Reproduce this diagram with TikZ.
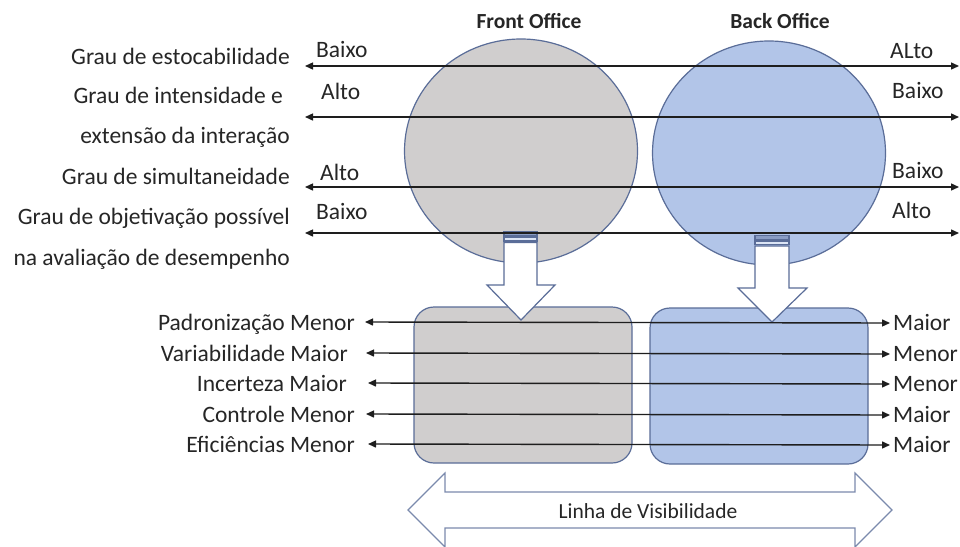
\documentclass[tikz,border=0pt]{standalone}
\usepackage{fontspec}
\setmainfont{Carlito}
\usetikzlibrary{arrows.meta,shapes.geometric}
\definecolor{grayfill}{HTML}{D0CECE}
\definecolor{bluefill}{HTML}{B2C5E8}
\definecolor{edgeblue}{HTML}{5A6D98}
\definecolor{ink}{HTML}{1E1E1E}
\definecolor{txt}{HTML}{262626}
\begin{document}
\begin{tikzpicture}[x=1pt,y=-1pt,
  lbl/.style={inner sep=0pt, font=\fontsize{23.5}{28}\selectfont, text=txt},
  ttl/.style={inner sep=0pt, font=\fontsize{21.5}{26}\selectfont\bfseries, text=txt},
  conn/.style={draw=ink, line width=1.4pt, {Triangle[length=8pt,width=7pt]}-{Triangle[length=8pt,width=7pt]}},
  shapeedge/.style={draw=edgeblue, line width=1.2pt},
  blob/.style={shapeedge, ellipse, inner sep=0pt, minimum width=233pt, minimum height=224pt},
  panel/.style={shapeedge, rounded corners=20pt, inner sep=0pt, minimum width=218pt, minimum height=156pt},
]
\useasboundingbox (0,0) rectangle (960,546);
\clip (0,0) rectangle (960,546);
\fill[white] (0,0) rectangle (960,546);

% circles
\node[blob, fill=grayfill] (fo) at (521,151) {};
\node[blob, fill=bluefill] (bo) at (769,153) {};

% boxes
\node[panel, fill=grayfill] (fobox) at (523,385) {};
\node[panel, fill=bluefill] (bobox) at (759,386) {};

% striped down arrows
\draw[shapeedge, fill=edgeblue!45!bluefill] (504,232) rectangle (537,236);
\draw[shapeedge, fill=bluefill!45] (504,237.5) rectangle (537,241);
\draw[shapeedge, fill=white] (504,242.5) -- (537,242.5) -- (537,285) -- (555,285) -- (521,320) -- (487,285) -- (504,285) -- cycle;

\draw[shapeedge, fill=edgeblue!45!bluefill] (755,235.5) rectangle (789,239.5);
\draw[shapeedge, fill=bluefill!45] (755,241) rectangle (789,244.5);
\draw[shapeedge, fill=white] (755,246) -- (789,246) -- (789,288) -- (807,288) -- (772,322) -- (738,288) -- (755,288) -- cycle;

% double block arrow
\draw[draw=edgeblue!80, line width=1.2pt, fill=white] (408,510) -- (445,473) -- (445,492) -- (855,492) -- (855,473) -- (892,510) -- (855,547) -- (855,528) -- (445,528) -- (445,547) -- cycle;
\node[inner sep=0pt, font=\fontsize{21.5}{26}\selectfont, text=txt] (vis) at (648,511) {Linha de Visibilidade};

% titles
\node[ttl, anchor=base] (fot) at (529,28) {Front Office};
\node[ttl, anchor=base] (bot) at (780,28) {Back Office};

% top connectors
\coordinate (a1l) at (305,66);  \coordinate (a1r) at (959,66);
\coordinate (a2l) at (305,117); \coordinate (a2r) at (959,117);
\coordinate (a3l) at (305,187); \coordinate (a3r) at (959,187);
\coordinate (a4l) at (305,233); \coordinate (a4r) at (959,233);
\draw[conn] (a1l) -- (a1r);
\draw[conn] (a2l) -- (a2r);
\draw[conn] (a3l) -- (a3r);
\draw[conn] (a4l) -- (a4r);

% bottom connectors
\coordinate (b1l) at (365,322); \coordinate (b1r) at (890,323);
\coordinate (b2l) at (366,353); \coordinate (b2r) at (890,354);
\coordinate (b3l) at (368,383); \coordinate (b3r) at (890,384);
\coordinate (b4l) at (366,414); \coordinate (b4r) at (890,415);
\coordinate (b5l) at (368,444); \coordinate (b5r) at (890,445);
\draw[conn] (b1l) -- (b1r);
\draw[conn] (b2l) -- (b2r);
\draw[conn] (b3l) -- (b3r);
\draw[conn] (b4l) -- (b4r);
\draw[conn] (b5l) -- (b5r);

% left labels top
\node[lbl, anchor=base east] (l1) at (290,64) {Grau de estocabilidade};
\node[lbl, anchor=base east] (l2) at (283,103) {Grau de intensidade e};
\node[lbl, anchor=base east] (l3) at (290,143) {extensão da interação};
\node[lbl, anchor=base east] (l4) at (290,184) {Grau de simultaneidade};
\node[lbl, anchor=base east] (l5) at (290,224) {Grau de objetivação possível};
\node[lbl, anchor=base east] (l6) at (290,265) {na avaliação de desempenho};

% arrow end labels top
\node[lbl, anchor=base west] (s1) at (316,57) {Baixo};
\node[lbl, anchor=base west] (s2) at (321,99) {Alto};
\node[lbl, anchor=base west] (s3) at (320,180) {Alto};
\node[lbl, anchor=base west] (s4) at (316,219) {Baixo};
\node[lbl, anchor=base west] (e1) at (890,58) {ALto};
\node[lbl, anchor=base west] (e2) at (892,98) {Baixo};
\node[lbl, anchor=base west] (e3) at (892,178) {Baixo};
\node[lbl, anchor=base west] (e4) at (892,218) {Alto};

% bottom left labels
\node[lbl, anchor=base east] (p1) at (355,330) {Padronização Menor};
\node[lbl, anchor=base east] (p2) at (348,361) {Variabilidade Maior};
\node[lbl, anchor=base east] (p3) at (347,391) {Incerteza Maior};
\node[lbl, anchor=base east] (p4) at (355,422) {Controle Menor};
\node[lbl, anchor=base east] (p5) at (355,452) {Eficiências Menor};

% bottom right labels
\node[lbl, anchor=base west] (q1) at (893,330) {Maior};
\node[lbl, anchor=base west] (q2) at (893,361) {Menor};
\node[lbl, anchor=base west] (q3) at (893,391) {Menor};
\node[lbl, anchor=base west] (q4) at (893,422) {Maior};
\node[lbl, anchor=base west] (q5) at (893,452) {Maior};
\end{tikzpicture}
\end{document}
